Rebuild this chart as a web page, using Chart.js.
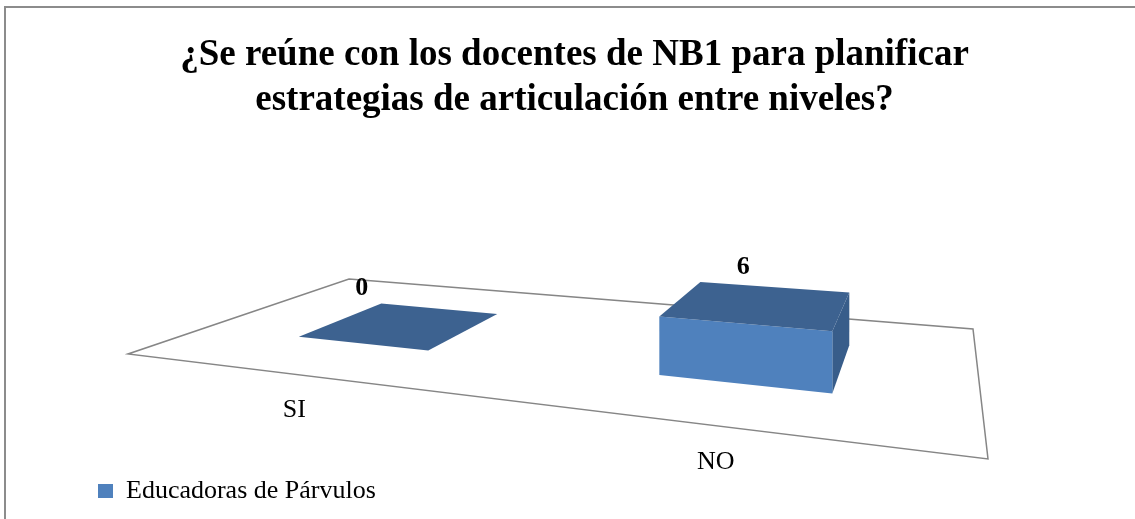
<!DOCTYPE html>
<html>
<head>
<meta charset="utf-8">
<script src="https://cdn.jsdelivr.net/npm/chart.js@4.4.0/dist/chart.umd.min.js"></script>
<style>
  html, body { margin: 0; padding: 0; background: #fff; }
</style>
</head>
<body>
<canvas id="chart" width="1135" height="519"></canvas>
<script>
const categories = ['SI', 'NO'];
const seriesName = 'Educadoras de Párvulos';
const values = [0, 6];
const titleLines = [
  '¿Se reúne con los docentes de NB1 para planificar',
  'estrategias de articulación entre niveles?'
];

const SERIF = "'Liberation Serif', 'Times New Roman', serif";

// floor of the 3D plot: back-left, back-right, front-right, front-left
const FLOOR = [[349, 279], [973, 329], [988, 459], [128, 354]];
const DEPTH = [0.29, 0.71];   // bar depth on the floor (0 = back, 1 = front)
const HEIGHT_SPAN = 65.7;     // un-projected px for the whole y range

function makeProjection(q) {
  const [[x0, y0], [x1, y1], [x2, y2], [x3, y3]] = q;
  const dx1 = x1 - x2, dx2 = x3 - x2, dx3 = x0 - x1 + x2 - x3;
  const dy1 = y1 - y2, dy2 = y3 - y2, dy3 = y0 - y1 + y2 - y3;
  const den = dx1 * dy2 - dx2 * dy1;
  const g = (dx3 * dy2 - dx2 * dy3) / den;
  const h = (dx1 * dy3 - dx3 * dy1) / den;
  const a = x1 - x0 + g * x1, b = x3 - x0 + h * x3, c = x0;
  const d = y1 - y0 + g * y1, e = y3 - y0 + h * y3, f = y0;
  return (u, v, z) => {
    const w = 1 / (g * u + h * v + 1);
    return [(a * u + b * v + c) * w, (d * u + e * v + f) * w - z * w];
  };
}

function poly(ctx, pts, fill) {
  ctx.beginPath();
  ctx.moveTo(pts[0][0], pts[0][1]);
  for (let i = 1; i < pts.length; i++) ctx.lineTo(pts[i][0], pts[i][1]);
  ctx.closePath();
  ctx.fillStyle = fill;
  ctx.fill();
}

const bars3d = {
  id: 'bars3d',
  beforeDraw(chart) {
    const ctx = chart.ctx;
    ctx.save();
    ctx.fillStyle = '#fff';
    ctx.fillRect(0, 0, chart.width, chart.height);
    // outer frame
    ctx.strokeStyle = '#8c8c8c';
    ctx.lineWidth = 2;
    ctx.beginPath();
    ctx.moveTo(5, chart.height);
    ctx.lineTo(5, 7);
    ctx.lineTo(chart.width, 7);
    ctx.stroke();
    ctx.restore();
  },
  beforeDatasetsDraw(chart) {
    const ctx = chart.ctx;
    const area = chart.chartArea;
    const P = makeProjection(FLOOR);
    const meta = chart.getDatasetMeta(0);
    const [v0, v1] = DEPTH;

    ctx.save();
    // floor outline
    ctx.strokeStyle = '#868686';
    ctx.lineWidth = 1.5;
    ctx.beginPath();
    [[0, 0], [1, 0], [1, 1], [0, 1]].forEach(([u, v], i) => {
      const [x, y] = P(u, v, 0);
      i ? ctx.lineTo(x, y) : ctx.moveTo(x, y);
    });
    ctx.closePath();
    ctx.stroke();

    meta.data.forEach((bar, i) => {
      const uc = (bar.x - area.left) / area.width;
      const hw = bar.width / 2 / area.width;
      const u0 = uc - hw, u1 = uc + hw;
      const z = (bar.base - bar.y) / area.height * HEIGHT_SPAN;

      if (z > 0) {
        poly(ctx, [P(u1, v1, 0), P(u1, v0, 0), P(u1, v0, z), P(u1, v1, z)], '#385D8A');
        poly(ctx, [P(u0, v1, 0), P(u1, v1, 0), P(u1, v1, z), P(u0, v1, z)], '#4F81BD');
      }
      poly(ctx, [P(u0, v0, z), P(u1, v0, z), P(u1, v1, z), P(u0, v1, z)], '#3D6290');

      // value label
      ctx.fillStyle = '#000';
      ctx.font = 'bold 26px ' + SERIF;
      ctx.textAlign = 'center';
      ctx.textBaseline = 'middle';
      ctx.fillText(String(values[i]), P(uc, v1, z)[0], P(uc, v0, z)[1] - 20);

      // category label
      ctx.font = '26px ' + SERIF;
      const [cx, cy] = P(uc, 1, 0);
      ctx.fillText(categories[i], cx, cy + 36);
    });
    ctx.restore();
    return false;
  }
};

new Chart(document.getElementById('chart'), {
  type: 'bar',
  data: {
    labels: categories,
    datasets: [{
      label: seriesName,
      data: values,
      backgroundColor: '#4F81BD',
      borderWidth: 0,
      categoryPercentage: 0.8,
      barPercentage: 0.49
    }]
  },
  options: {
    responsive: false,
    devicePixelRatio: 1,
    animation: false,
    layout: { padding: { left: 88, right: 74, top: 0, bottom: 5 } },
    scales: {
      x: { display: false },
      y: { display: false, min: 0, max: 10 }
    },
    plugins: {
      tooltip: { enabled: false },
      title: {
        display: true,
        text: titleLines,
        color: '#000',
        font: { family: SERIF, size: 37, weight: 'bold', lineHeight: 1.22 },
        padding: { top: 33, bottom: 10 }
      },
      legend: {
        position: 'bottom',
        align: 'start',
        labels: {
          color: '#000',
          boxWidth: 15,
          boxHeight: 14,
          padding: 10,
          font: { family: SERIF, size: 26 }
        }
      }
    }
  },
  plugins: [bars3d]
});
</script>
</body>
</html>
